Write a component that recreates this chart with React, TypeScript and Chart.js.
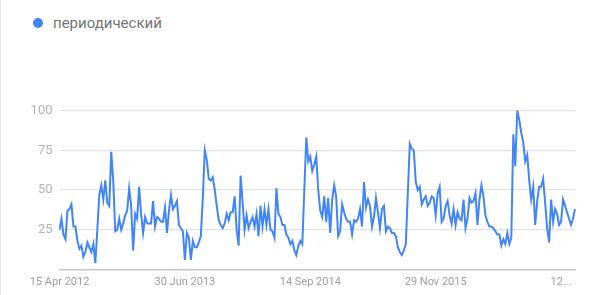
import React, { useEffect, useRef } from "react";
import { Chart, registerables } from "chart.js";

Chart.register(...registerables);

const seriesName = "периодический";
const startDate = "2012-04-15";
const monthNames = ["Jan", "Feb", "Mar", "Apr", "May", "Jun", "Jul", "Aug", "Sep", "Oct", "Nov", "Dec"];

const values = [
  25, 32, 22, 19, 37, 38, 41, 27, 27, 18, 13, 15, 8, 11, 17, 14, 11, 16, 4, 25,
  47, 53, 44, 56, 42, 40, 74, 56, 24, 25, 32, 25, 29, 34, 37, 51, 40, 12, 35, 32,
  52, 35, 23, 33, 29, 29, 29, 43, 27, 33, 32, 30, 30, 39, 23, 37, 47, 38, 40, 43,
  28, 26, 24, 6, 23, 20, 6, 18, 14, 14, 17, 21, 45, 75, 69, 57, 56, 58, 50, 40,
  31, 28, 26, 29, 35, 31, 36, 36, 46, 25, 15, 59, 42, 25, 34, 26, 30, 33, 27, 35,
  21, 40, 27, 38, 28, 38, 25, 24, 20, 51, 35, 33, 28, 28, 22, 20, 16, 18, 12, 9,
  15, 18, 16, 50, 83, 68, 71, 62, 66, 71, 50, 37, 33, 46, 30, 45, 23, 44, 53, 46,
  21, 24, 41, 36, 32, 30, 30, 22, 31, 30, 32, 38, 27, 55, 39, 44, 40, 27, 33, 45,
  36, 26, 38, 40, 24, 27, 26, 23, 23, 21, 14, 11, 9, 12, 16, 48, 79, 76, 75, 55,
  50, 52, 41, 44, 46, 40, 42, 46, 45, 34, 48, 52, 30, 32, 40, 43, 34, 29, 38, 28,
  36, 32, 31, 44, 26, 32, 45, 42, 43, 48, 28, 44, 53, 46, 34, 30, 27, 27, 26, 24,
  22, 22, 15, 19, 16, 23, 16, 20, 85, 65, 100, 94, 86, 80, 68, 72, 56, 44, 52, 28,
  43, 52, 52, 57, 42, 26, 17, 44, 30, 38, 35, 28, 30, 44, 40, 36, 32, 28, 32, 38,
];

const tickDates = ["15 Apr 2012", "30 Jun 2013", "14 Sep 2014", "29 Nov 2015", "12 Feb 2017"];
const tickTexts = ["15 Apr 2012", "30 Jun 2013", "14 Sep 2014", "29 Nov 2015", "12..."];
const yTickValues = [25, 50, 75, 100];

function weekLabel(i: number): string {
  const d = new Date(startDate + "T00:00:00Z");
  d.setUTCDate(d.getUTCDate() + i * 7);
  return `${d.getUTCDate()} ${monthNames[d.getUTCMonth()]} ${d.getUTCFullYear()}`;
}

const categories = values.map((_, i) => weekLabel(i));

const BLUE = "#4285f4";
const FONT = "Roboto, 'Noto Sans', sans-serif";

export default function App() {
  const ref = useRef<HTMLCanvasElement | null>(null);

  useEffect(() => {
    if (!ref.current) return;
    const chart = new Chart(ref.current, {
      type: "line",
      data: {
        labels: categories,
        datasets: [
          {
            label: seriesName,
            data: values,
            borderColor: BLUE,
            backgroundColor: BLUE,
            borderWidth: 2,
            pointRadius: 0,
            tension: 0,
            fill: false,
          },
        ],
      },
      options: {
        responsive: false,
        animation: false,
        layout: { padding: { top: 110.5, right: 25, left: 0, bottom: 0 } },
        plugins: { legend: { display: false }, tooltip: { enabled: false } },
        scales: {
          x: {
            type: "category",
            offset: false,
            grid: { display: false, drawTicks: false },
            border: { display: true, color: "#c6c6c6", width: 1.5 },
            afterFit: (s: any) => {
              s.height = 25.5;
            },
            ticks: {
              autoSkip: false,
              maxRotation: 0,
              minRotation: 0,
              padding: 6,
              color: "#9e9e9e",
              font: { family: FONT, size: 11 },
              callback: function (this: any, _v: any, idx: number) {
                const k = tickDates.indexOf(categories[idx]);
                return k >= 0 ? tickTexts[k] : null;
              },
            },
          },
          y: {
            min: 0,
            max: 100,
            border: { display: false },
            afterFit: (s: any) => {
              s.width = 59.5;
            },
            grid: {
              color: (ctx: any) => (ctx.tick && ctx.tick.value === 0 ? "rgba(0,0,0,0)" : "#e3e3e3"),
              lineWidth: 1.2,
              drawTicks: false,
            },
            ticks: {
              stepSize: 25,
              padding: 7,
              color: "#b3b3b3",
              font: { family: FONT, size: 13 },
              callback: (v: any) => (yTickValues.includes(Number(v)) ? String(v) : ""),
            },
          },
        },
      },
    });
    return () => chart.destroy();
  }, []);

  return (
    <div style={{ position: "absolute", left: 0, top: 0, width: 600, height: 295, background: "#fff", overflow: "hidden" }}>
      <div style={{ position: "absolute", left: 0, top: 0, width: 1, height: 295, background: "#e6e6e6" }} />
      <div
        style={{
          position: "absolute",
          left: 33,
          top: 14,
          display: "flex",
          alignItems: "center",
          fontFamily: FONT,
          fontSize: 15,
          color: "#757575",
          whiteSpace: "nowrap",
        }}
      >
        <span style={{ display: "inline-block", width: 10, height: 10, borderRadius: 5, background: BLUE, marginRight: 10 }} />
        <span>{seriesName}</span>
      </div>
      <canvas ref={ref} width={600} height={295} style={{ position: "absolute", left: 0, top: 0, width: 600, height: 295 }} />
    </div>
  );
}
